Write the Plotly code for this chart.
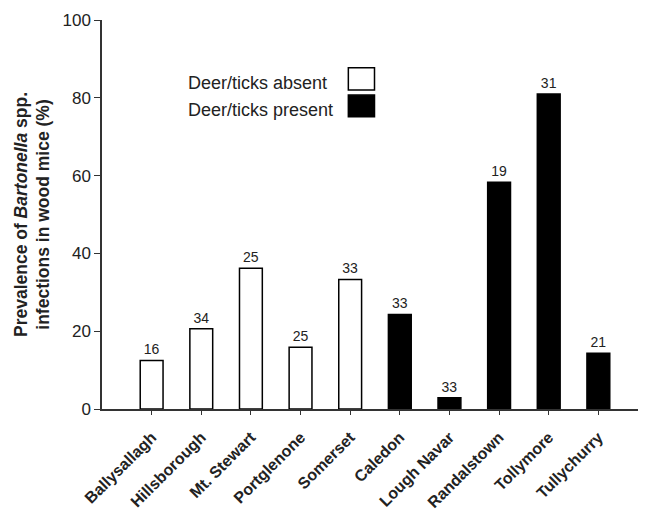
import plotly.graph_objects as go

sites = ["Ballysallagh", "Hillsborough", "Mt. Stewart", "Portglenone", "Somerset",
         "Caledon", "Lough Navar", "Randalstown", "Tollymore", "Tullychurry"]
prevalence = [12.5, 20.6, 36.2, 15.9, 33.3, 24.3, 2.9, 58.3, 81.0, 14.3]
sample_n = [16, 34, 25, 25, 33, 33, 33, 19, 31, 21]
deer_present = [False, False, False, False, False, True, True, True, True, True]

FONT = "Liberation Sans, Arial, sans-serif"
colors = ["black" if d else "white" for d in deer_present]

fig = go.Figure()
fig.add_trace(go.Bar(
    x=list(range(len(sites))), y=prevalence,
    width=0.46,
    marker=dict(color=colors, line=dict(color="black", width=1.5)),
    text=[str(n) for n in sample_n], textposition="outside",
    textfont=dict(family=FONT, size=14, color="#222"),
    cliponaxis=False, showlegend=False, hoverinfo="skip",
))

fig.update_layout(
    width=646, height=518,
    margin=dict(l=94, r=7, t=12, b=117),
    paper_bgcolor="white", plot_bgcolor="white",
    font=dict(family=FONT, color="#222"),
    xaxis=dict(
        range=[-1, 9.98], tickmode="array", tickvals=list(range(len(sites))),
        ticktext=["<b>%s</b>" % s for s in sites], tickangle=-45,
        tickfont=dict(size=16, family=FONT, color="#222"),
        showline=True, linecolor="#333", linewidth=1.5,
        ticks="outside", ticklen=4, tickcolor="#333", showgrid=False, zeroline=False,
        automargin=False, ticklabelstandoff=7,
    ),
    yaxis=dict(
        range=[0, 100], tickvals=[0, 20, 40, 60, 80, 100],
        tickfont=dict(size=17, family=FONT, color="#222"),
        showline=True, linecolor="#333", linewidth=1.5,
        ticks="outside", ticklen=6, tickcolor="#333", showgrid=False, zeroline=False,
        automargin=False,
        title=dict(text="<b>Prevalence of <i>Bartonella</i> spp.<br>infections in wood mice (%)</b>",
                   font=dict(size=17.5, family=FONT, color="#222"), standoff=8),
    ),
)

# legend drawn manually: text left, swatch right
legend_items = [("Deer/ticks absent", "white", 0.877, 0.820),
                ("Deer/ticks present", "black", 0.807, 0.751)]
for label, col, y1, y0 in legend_items:
    fig.add_shape(type="rect", xref="paper", yref="paper", x0=0.452, x1=0.5, y0=y0, y1=y1,
                  fillcolor=col, line=dict(color="black", width=1.5))
    fig.add_annotation(xref="paper", yref="paper", x=0.156, y=(y0 + y1) / 2 - 0.01,
                       xanchor="left", yanchor="middle", showarrow=False, borderpad=0,
                       text=label, font=dict(size=18, family=FONT, color="#222"))

fig.write_html("out.html")
